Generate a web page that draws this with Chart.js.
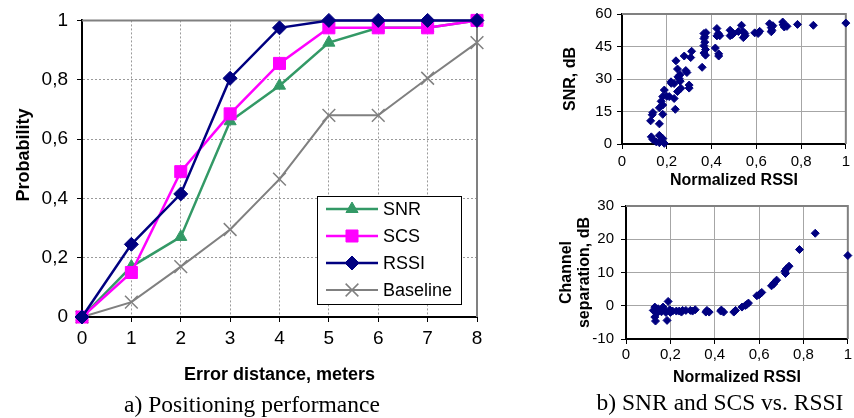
<!DOCTYPE html>
<html>
<head>
<meta charset="utf-8">
<script src="https://cdn.jsdelivr.net/npm/chart.js@4.4.1/dist/chart.umd.min.js"></script>
<style>
body{margin:0;background:#fff;width:854px;height:418px;overflow:hidden;position:relative}
.box{position:absolute}
.cap{position:absolute;font-family:"Liberation Serif","Times New Roman",serif;font-size:23.5px;color:#000;white-space:nowrap;transform:translate(-50%,-50%)}
</style>
</head>
<body>
<div class="box" style="left:0;top:0;width:490px;height:392px"><canvas id="perfChart"></canvas></div>
<div class="box" style="left:550px;top:0;width:304px;height:190px"><canvas id="snrChart"></canvas></div>
<div class="box" style="left:550px;top:190px;width:304px;height:200px"><canvas id="sepChart"></canvas></div>
<div class="cap" style="left:252px;top:404px">a) Positioning performance</div>
<div class="cap" style="left:720px;top:402px">b) SNR and SCS vs. RSSI</div>
<script>
// a) positioning performance
const distances = [0, 1, 2, 3, 4, 5, 6, 7, 8];
const snrProb = [0, 0.17, 0.27, 0.66, 0.78, 0.925, 0.975, 0.975, 1];
const scsProb = [0, 0.15, 0.49, 0.685, 0.855, 0.975, 0.975, 0.975, 1];
const rssiProb = [0, 0.245, 0.415, 0.805, 0.975, 1, 1, 1, 1];
const baseProb = [0, 0.05, 0.17, 0.295, 0.465, 0.68, 0.68, 0.805, 0.925];

// b) top: SNR vs normalized RSSI
const snrRssi = [0.131,0.138,0.167,0.182,0.167,0.189,0.153,0.128,0.138,0.135,0.167,0.167,0.182,0.175,0.182,0.189,0.182,0.2,0.211,0.219,0.22,0.233,0.238,0.233,0.248,0.248,0.241,0.25,0.256,0.26,0.263,0.26,0.278,0.285,0.29,0.3,0.3,0.307,0.311,0.358,0.366,0.366,0.366,0.366,0.37,0.37,0.373,0.373,0.375,0.417,0.424,0.424,0.43,0.432,0.432,0.437,0.483,0.483,0.498,0.49,0.52,0.534,0.542,0.542,0.549,0.55,0.593,0.608,0.615,0.659,0.667,0.667,0.67,0.674,0.718,0.72,0.725,0.737,0.784,0.855,1.0];
const snrDb = [3.3,2.1,4,2.5,0.6,0.3,1,10.7,14.5,13.5,9.3,16.7,13.7,19.7,21.9,24.9,18,22,21.9,28.7,28,27.9,16,21,24.2,34.6,38.4,31,30.1,29,25.7,32,40.6,33.9,33,27.2,25.8,39.9,42.8,35.4,51,48.7,45.4,42,47,49.5,43.6,41,51.4,44.3,53.3,49.9,51,40.6,41.6,50,52.5,50,51,50.3,51.9,54.8,51.8,49.1,51,50,51.3,51,52,55.5,53.7,51.8,52.5,54.6,56.3,55,54,54.3,55.2,54.8,55.8];

// b) bottom: channel separation vs normalized RSSI
const sepRssi = [0.123,0.13,0.13,0.133,0.14,0.145,0.16,0.167,0.174,0.18,0.19,0.185,0.197,0.2,0.21,0.227,0.24,0.25,0.255,0.27,0.29,0.3,0.312,0.36,0.365,0.375,0.427,0.43,0.44,0.486,0.494,0.523,0.538,0.545,0.552,0.59,0.6,0.605,0.612,0.656,0.665,0.668,0.679,0.716,0.719,0.723,0.735,0.782,0.853,1.0];
const sepDb = [-1.4,-0.4,-3.4,-4.6,-2.2,-0.9,-1.8,-0.4,-1.4,-2,1.3,-4.4,-1.2,-2,-1.6,-1.6,-1.6,-1.9,-1.4,-1.4,-1.4,-1.6,-1.2,-1.9,-1.4,-1.9,-1.6,-1.3,-1.9,-1.9,-1.4,-0.4,0.1,0.4,0.8,3,3.3,3.6,4,6,6.5,6.9,7.7,10.4,9.7,11.1,11.9,16.9,21.8,15.1];

const sans = '"Liberation Sans", Arial, sans-serif';
const comma = v => String(+(+v).toFixed(1)).replace('.', ',');
const xy = (xs, ys) => xs.map((x, i) => ({x: x, y: ys[i]}));

// gray top/right frame like the Excel plot area
const framePlugin = {
  id: 'frame',
  beforeDatasetsDraw(chart) {
    const a = chart.chartArea, ctx = chart.ctx;
    ctx.save();
    ctx.strokeStyle = '#808080';
    ctx.lineWidth = 2;
    ctx.beginPath();
    ctx.moveTo(a.left, a.top);
    ctx.lineTo(a.right, a.top);
    ctx.lineTo(a.right, a.bottom);
    ctx.stroke();
    ctx.restore();
  }
};

// y title of the left chart, placed a bit above the plot centre
const sideTitle = {
  id: 'sideTitle',
  afterDraw(chart) {
    const ctx = chart.ctx;
    ctx.save();
    ctx.translate(24, 155);
    ctx.rotate(-Math.PI / 2);
    ctx.fillStyle = '#000';
    ctx.font = 'bold 18px ' + sans;
    ctx.textAlign = 'center';
    ctx.textBaseline = 'middle';
    ctx.fillText('Probability', 0, 0);
    ctx.restore();
  }
};

// legend box inside the plot
const boxLegend = {
  id: 'boxLegend',
  afterDraw(chart) {
    const ctx = chart.ctx;
    ctx.save();
    ctx.fillStyle = '#fff';
    ctx.fillRect(317, 196, 144, 108);
    ctx.strokeStyle = '#000';
    ctx.lineWidth = 1;
    ctx.strokeRect(317.5, 196.5, 144, 108);
    const rows = ['SNR', 'SCS', 'RSSI', 'Baseline'];
    rows.forEach((name, i) => {
      const ds = chart.data.datasets.find(d => d.label === name);
      const y = 209 + i * 27;
      ctx.strokeStyle = ds.borderColor;
      ctx.lineWidth = ds.borderWidth;
      ctx.beginPath();
      ctx.moveTo(326, y);
      ctx.lineTo(378, y);
      ctx.stroke();
      ctx.fillStyle = ds.backgroundColor;
      ctx.lineWidth = ds.pointBorderWidth || 1;
      Chart.helpers.drawPoint(ctx, {pointStyle: ds.pointStyle, radius: ds.pointRadius, borderWidth: ds.pointBorderWidth || 1, rotation: 0}, 352, y);
      ctx.fillStyle = '#000';
      ctx.font = '18px ' + sans;
      ctx.textBaseline = 'middle';
      ctx.fillText(name, 383, y + 1);
    });
    ctx.restore();
  }
};

function series(label, ys, color, style, radius, width, order) {
  return {
    label: label,
    data: xy(distances, ys),
    borderColor: color,
    backgroundColor: color,
    borderWidth: width,
    pointStyle: style,
    pointRadius: radius,
    pointBorderWidth: style === 'crossRot' ? 1.5 : 1,
    tension: 0,
    clip: false,
    order: order
  };
}

new Chart(document.getElementById('perfChart'), {
  type: 'line',
  data: {
    datasets: [
      series('SNR', snrProb, '#339966', 'triangle', 7, 2.5, 2),
      series('SCS', scsProb, '#FF00FF', 'rect', 8.5, 2.5, 1),
      series('RSSI', rssiProb, '#000080', 'rectRot', 7, 2.5, 0),
      series('Baseline', baseProb, '#808080', 'crossRot', 9, 2, 3)
    ]
  },
  options: {
    responsive: true,
    maintainAspectRatio: false,
    animation: false,
    layout: {padding: {top: 20, right: 13, left: 0, bottom: 0}},
    plugins: {legend: {display: false}, tooltip: {enabled: false}},
    scales: {
      x: {
        type: 'linear', min: 0, max: 8,
        afterFit(s) { s.height = 75; },
        ticks: {stepSize: 1, color: '#000', padding: 5, font: {family: sans, size: 19}},
        grid: {color: '#9a9a9a', tickColor: '#000', tickLength: 5, tickBorderDash: []},
        border: {color: '#000', width: 2, dash: [2, 2]},
        title: {display: true, text: 'Error distance, meters', color: '#000', padding: {top: 0, bottom: 6}, font: {family: sans, size: 18, weight: 'bold'}}
      },
      y: {
        min: 0, max: 1,
        afterFit(s) { s.width = 82; },
        ticks: {stepSize: 0.2, color: '#000', padding: 9, callback: comma, font: {family: sans, size: 19}},
        grid: {color: '#9a9a9a', tickColor: '#000', tickLength: 5, tickBorderDash: []},
        border: {color: '#000', width: 2, dash: [2, 2]}
      }
    }
  },
  plugins: [framePlugin, sideTitle, boxLegend]
});

function scatterOptions(o) {
  return {
    responsive: true,
    maintainAspectRatio: false,
    animation: false,
    layout: {padding: o.padding},
    plugins: {legend: {display: false}, tooltip: {enabled: false}},
    scales: {
      x: {
        type: 'linear', min: 0, max: 1,
        afterFit(s) { s.height = o.xHeight; },
        ticks: {stepSize: 0.2, color: '#000', padding: o.xTickPad, callback: comma, font: {family: sans, size: 15}},
        grid: {color: '#a6a6a6', tickColor: '#000', tickLength: 5},
        border: {color: '#000', width: 2},
        title: {display: true, text: 'Normalized RSSI', color: '#000', padding: {top: 0, bottom: o.xTitlePad}, font: {family: sans, size: 16, weight: 'bold'}}
      },
      y: {
        min: o.yMin, max: o.yMax,
        afterFit(s) { s.width = o.yWidth; },
        ticks: {stepSize: o.yStep, color: '#000', padding: o.yTickPad, font: {family: sans, size: 15}},
        grid: {color: '#a6a6a6', tickColor: '#000', tickLength: 5},
        border: {color: '#000', width: 2},
        title: {display: true, text: o.yTitle, color: '#000', padding: {top: o.yTitlePad, bottom: 0}, font: {family: sans, size: 16, weight: 'bold', lineHeight: 1.1}}
      }
    }
  };
}

function dots(xs, ys) {
  return [{
    data: xy(xs, ys),
    pointStyle: 'rectRot',
    pointRadius: 4,
    borderWidth: 1,
    backgroundColor: '#000080',
    borderColor: '#000080',
    clip: false
  }];
}

new Chart(document.getElementById('snrChart'), {
  type: 'scatter',
  data: {datasets: dots(snrRssi, snrDb)},
  options: scatterOptions({
    padding: {top: 10, right: 5, left: 0, bottom: 0},
    xHeight: 46, xTickPad: 4, xTitlePad: 0, yWidth: 72, yTickPad: 5, yTitlePad: 12,
    yMin: 0, yMax: 60, yStep: 15, yTitle: 'SNR, dB'
  }),
  plugins: [framePlugin]
});

new Chart(document.getElementById('sepChart'), {
  type: 'scatter',
  data: {datasets: dots(sepRssi, sepDb)},
  options: scatterOptions({
    padding: {top: 14, right: 4, left: 0, bottom: 0},
    xHeight: 51, xTickPad: 2, xTitlePad: 3, yWidth: 76, yTickPad: 7, yTitlePad: 8,
    yMin: -10, yMax: 30, yStep: 10, yTitle: ['Channel', 'separation, dB']
  }),
  plugins: [framePlugin]
});
</script>
</body>
</html>
